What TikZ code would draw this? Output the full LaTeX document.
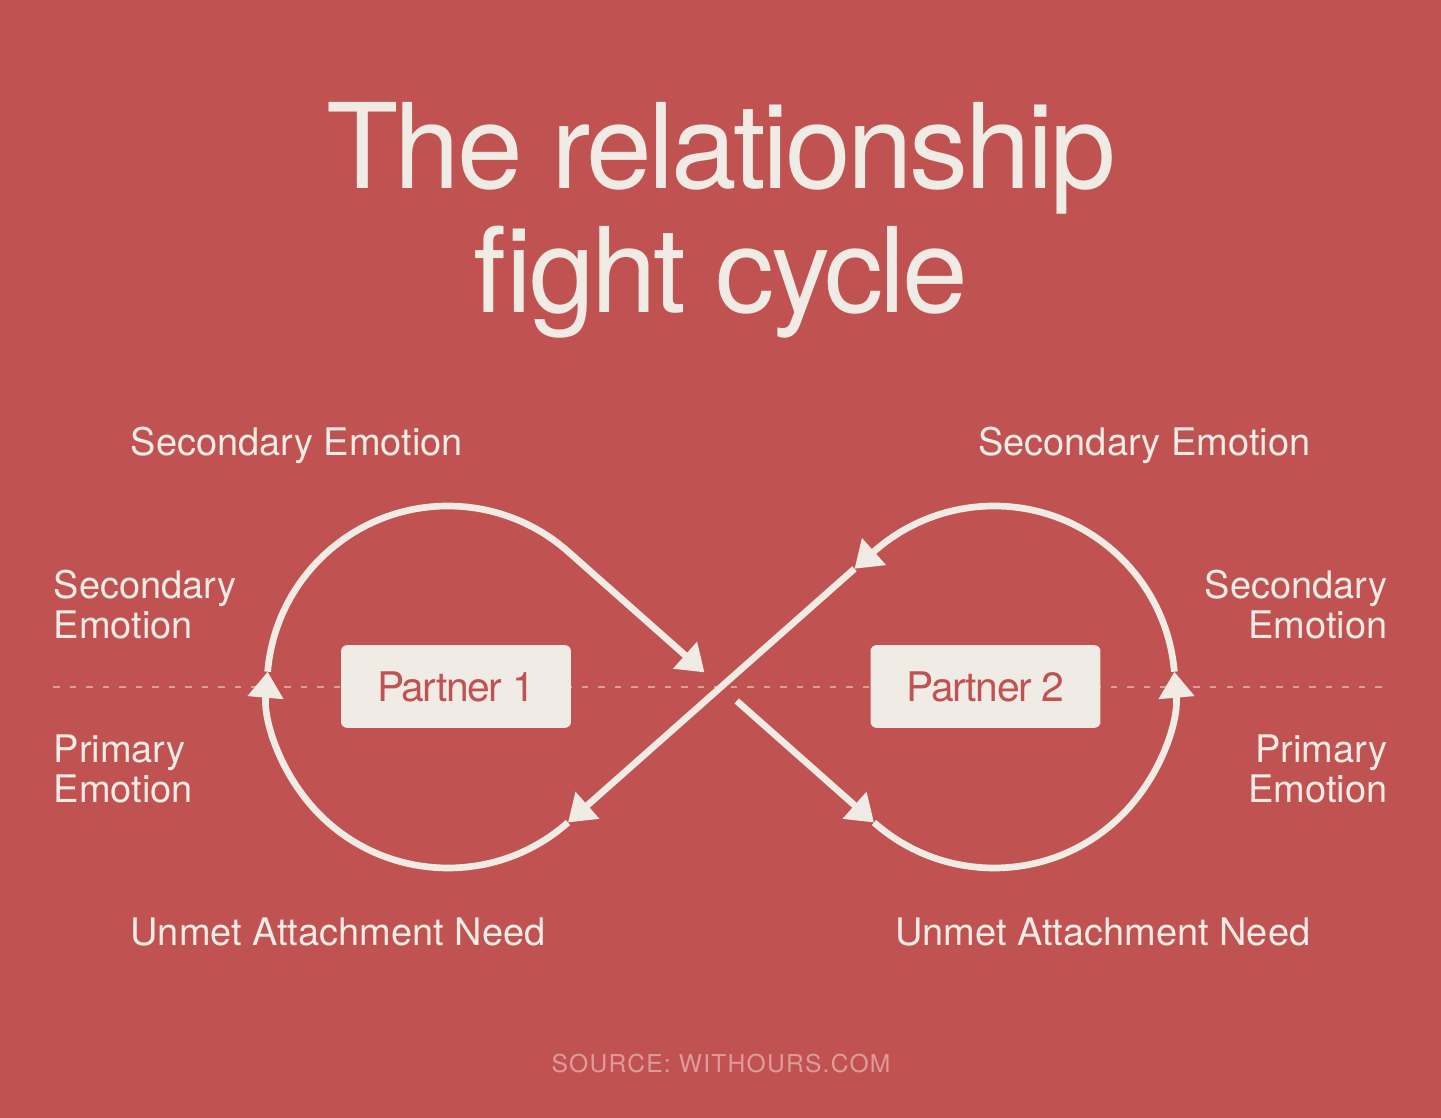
\documentclass[tikz,border=0pt]{standalone}
\usepackage{fontspec}
\setmainfont{TeX Gyre Heros}
\newfontfamily\titlefont[LetterSpace=-3.0]{TeX Gyre Heros}
\newfontfamily\boxfont[LetterSpace=-3.5]{TeX Gyre Heros}
\newfontfamily\srcfont[LetterSpace=5.0]{TeX Gyre Heros}
\usetikzlibrary{arrows.meta,calc}
\definecolor{cyclered}{RGB}{192,82,81}
\definecolor{cream}{RGB}{240,235,229}
\definecolor{dashpink}{RGB}{223,155,153}
\tikzset{
  cycleline/.style={line width=1.9pt,draw=cream},
  cyclearrow/.style={-{Triangle[length=7.4pt,width=9.8pt]}},
  emolabel/.style={text=cream,inner sep=0pt,font=\fontsize{10.8pt}{11.2pt}\selectfont},
  partner/.style={rectangle,fill=cream,rounded corners=1.7pt,minimum width=65.4pt,
    minimum height=23.5pt,inner sep=0pt,text=cyclered,font=\boxfont\fontsize{11.6pt}{12pt}\selectfont}
}
\begin{document}
\begin{tikzpicture}[x=0.01cm,y=0.01cm]
    \fill[cyclered] (0,0) rectangle (1441,-1118);
    \useasboundingbox (0,0) rectangle (1441,-1118);
    % title and labels (base = last line)
    \node[text=cream,inner sep=0pt,align=center,anchor=base,
      font=\titlefont\fontsize{33.6pt}{35.1pt}\selectfont] (title) at (721,-312) {The relationship\\fight cycle};
    \node[emolabel,anchor=base west] (secTL) at (130,-455) {Secondary Emotion};
    \node[emolabel,anchor=base east] (secTR) at (1311,-455) {Secondary Emotion};
    \node[emolabel,anchor=base west,align=left] (secL) at (53,-638) {Secondary\\Emotion};
    \node[emolabel,anchor=base west,align=left] (priL) at (53,-802) {Primary\\Emotion};
    \node[emolabel,anchor=base east,align=right] (secR) at (1388,-638) {Secondary\\Emotion};
    \node[emolabel,anchor=base east,align=right] (priR) at (1388,-802) {Primary\\Emotion};
    \node[emolabel,anchor=base west] (needL) at (130,-945) {Unmet Attachment Need};
    \node[emolabel,anchor=base east] (needR) at (1311,-945) {Unmet Attachment Need};
    \node[text=dashpink,inner sep=0pt,anchor=base,font=\srcfont\fontsize{7pt}{8pt}\selectfont] (src) at (721,-1072) {SOURCE: WITHOURS.COM};
    % divider
    \coordinate (dl) at (53,-687); \coordinate (dr) at (1386,-687);
    \draw[dashpink,line width=0.6pt,dash pattern=on 1.85pt off 2.85pt] (dl) -- (dr);
    % loops
    \coordinate (L) at (448,-687); \coordinate (R) at (994,-687); \coordinate (M) at (721,-687);
    \coordinate (LT) at ($(L)+(48.47:181)$); \coordinate (LB) at ($(L)+(-48.47:181)$);
    \coordinate (RT) at ($(R)+(131.53:181)$); \coordinate (RB) at ($(R)+(228.47:181)$);
    \coordinate (LA) at ($(L)+(175.15:181)$); \coordinate (RA) at ($(R)+(4.85:181)$);
    \coordinate (A1) at ($(M)!0.22cm!(LT)$); \coordinate (A2) at ($(M)!0.21cm!(RB)$);
    \coordinate (B1) at ($(RT)!0.26cm!(LB)$);
    \draw[cycleline,cyclearrow] (LB) arc[start angle=-48.47,end angle=-184.85,radius=181];
    \draw[cycleline] (LA) arc[start angle=175.15,end angle=48.47,radius=181];
    \draw[cycleline,cyclearrow] (RB) arc[start angle=228.47,end angle=364.85,radius=181];
    \draw[cycleline] (RA) arc[start angle=4.85,end angle=131.53,radius=181];
    \draw[cycleline,cyclearrow] (LT) -- (A1);
    \draw[cycleline,cyclearrow] (A2) -- (RB);
    \draw[cycleline,cyclearrow] (RT) -- (B1);
    \draw[cycleline,cyclearrow] (B1) -- (LB);
    % partners
    \node[partner] (p1) at (456,-686.5) {Partner 1};
    \node[partner] (p2) at (985.5,-686.5) {Partner 2};
\end{tikzpicture}
\end{document}
